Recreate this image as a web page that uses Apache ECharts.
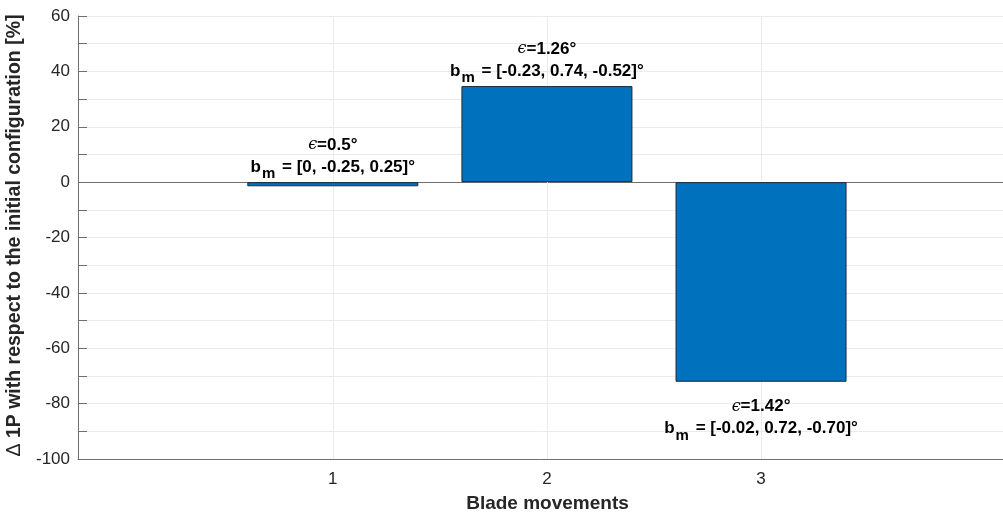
<!DOCTYPE html>
<html><head><meta charset="utf-8">
<script src="https://cdn.jsdelivr.net/npm/echarts@6/dist/echarts.min.js"></script>
<style>html,body{margin:0;padding:0;background:#fff}#c{width:1003px;height:516px}</style>
</head><body><div id="c"></div>
<script>
// Change in 1P load for each blade movement case
const movements = [1, 2, 3];
const delta1P = [-1.5, 34.7, -72.1];
const epsilonDeg = ['0.5', '1.26', '1.42'];
const bmDeg = ['[0, -0.25, 0.25]', '[-0.23, 0.74, -0.52]', '[-0.02, 0.72, -0.70]'];
const labelSide = ['top', 'top', 'bottom'];
const yLabelValues = [-100, -80, -60, -40, -20, 0, 20, 40, 60];

const FONT = '"Liberation Sans", Arial, Helvetica, sans-serif';
const AXIS_GRAY = '#6e6e6e';
const TEXT_GRAY = '#262626';

const chart = echarts.init(document.getElementById('c'));

const barData = movements.map((m, i) => ({
  value: [m, delta1P[i]],
  label: {
    position: labelSide[i],
    distance: labelSide[i] === 'bottom' ? 14 : 4,
    formatter: '{e|\u03F5}{b|=' + epsilonDeg[i] + '\u00B0}\n{b|b}{s|m}{b| = ' + bmDeg[i] + '\u00B0}'
  }
}));

chart.setOption({
  animation: false,
  backgroundColor: '#ffffff',
  grid: { left: 78, right: 0, top: 16, bottom: 57, containLabel: false, outerBoundsMode: 'none' },
  xAxis: {
    type: 'value',
    min: -0.19, max: 4.13,
    name: 'Blade movements',
    nameLocation: 'middle',
    nameGap: 35,
    nameTextStyle: { fontFamily: FONT, fontSize: 19, fontWeight: 'bold', color: TEXT_GRAY, padding: [0, 0, 0, 14] },
    axisLine: { show: true, onZero: false, lineStyle: { color: AXIS_GRAY, width: 1 } },
    axisTick: { show: true, inside: true, length: 9, customValues: movements, lineStyle: { color: AXIS_GRAY } },
    axisLabel: { customValues: movements, fontFamily: FONT, fontSize: 17, color: TEXT_GRAY, margin: 12 },
    splitLine: { show: false }
  },
  yAxis: {
    type: 'value',
    min: -100, max: 60, interval: 10,
    name: '{d|\u0394} 1P with respect to the initial configuration [%]',
    nameLocation: 'middle',
    nameGap: 46,
    nameTextStyle: {
      fontFamily: FONT, fontSize: 19.5, fontWeight: 'bold', color: TEXT_GRAY, padding: [0, 0, 0, 4],
      rich: { d: { fontFamily: FONT, fontSize: 19.5, fontWeight: 'normal', color: TEXT_GRAY } }
    },
    axisLine: { show: true, onZero: false, lineStyle: { color: AXIS_GRAY, width: 1 } },
    axisTick: { show: true, inside: true, length: 9, lineStyle: { color: AXIS_GRAY } },
    axisLabel: {
      fontFamily: FONT, fontSize: 17, color: TEXT_GRAY, margin: 8,
      formatter: v => (yLabelValues.indexOf(v) >= 0 ? String(v) : '')
    },
    splitLine: { show: true, lineStyle: { color: '#ebebeb', width: 1 } }
  },
  series: [{
    type: 'bar',
    z: 3,
    data: barData,
    barWidth: 171,
    itemStyle: { color: '#0072BD', borderColor: '#1b2a3a', borderWidth: 1 },
    label: {
      show: true,
      align: 'center',
      color: '#000',
      fontFamily: FONT,
      rich: {
        e: { fontFamily: '"DejaVu Serif", serif', fontStyle: 'italic', fontSize: 16, color: '#000', lineHeight: 22 },
        b: { fontFamily: FONT, fontWeight: 'bold', fontSize: 17, color: '#000', lineHeight: 22 },
        s: { fontFamily: FONT, fontWeight: 'bold', fontSize: 15, color: '#000', lineHeight: 22, padding: [14, 2, 0, 1] }
      }
    },
    markLine: {
      silent: true,
      z: 1,
      symbol: 'none',
      label: { show: false },
      lineStyle: { color: AXIS_GRAY, type: 'solid', width: 1 },
      data: [{ yAxis: 0 }].concat(movements.map(m => ({ xAxis: m, lineStyle: { color: '#ebebeb' } })))
    }
  }]
});
</script>
</body></html>
